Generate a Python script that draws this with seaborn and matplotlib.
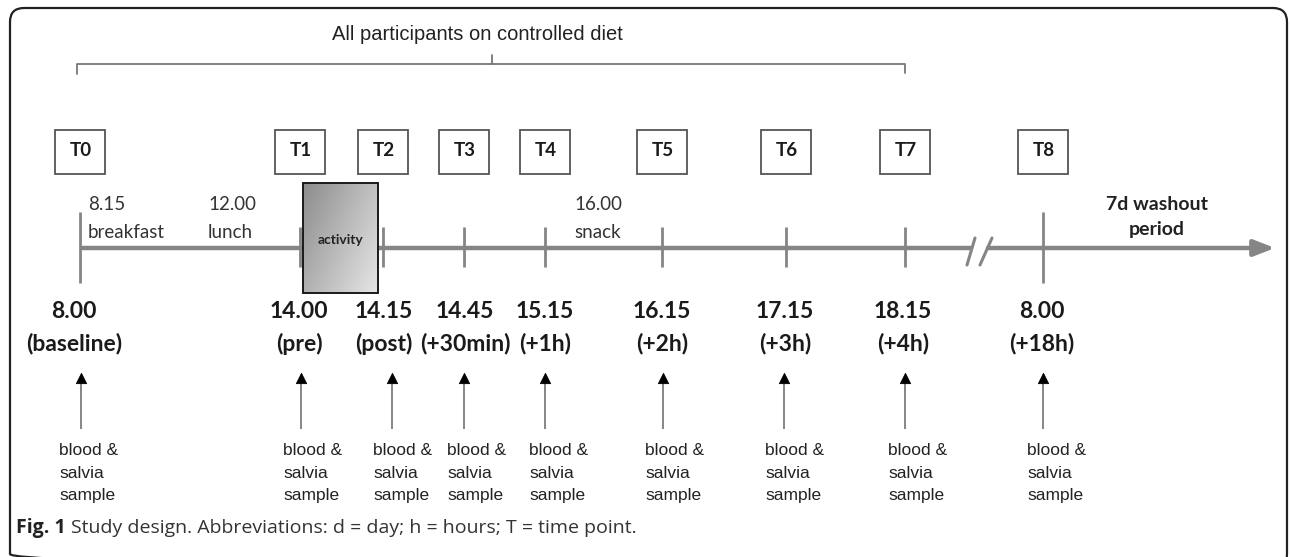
import matplotlib
matplotlib.use('Agg')
import matplotlib.pyplot as plt
import numpy as np
import seaborn as sns
from matplotlib.patches import Rectangle, FancyBboxPatch

# Timeline data (positions along the drawn time axis, in pixel units)
tp_labels = ['T0', 'T1', 'T2', 'T3', 'T4', 'T5', 'T6', 'T7', 'T8']
tp_x = [80, 300, 383, 464, 545, 662, 786, 905, 1043]
clock_times = ['8.00', '14.00', '14.15', '14.45', '15.15', '16.15', '17.15', '18.15', '8.00']
rel_times = ['(baseline)', '(pre)', '(post)', '(+30min)', '(+1h)', '(+2h)', '(+3h)', '(+4h)', '(+18h)']
label_x = [74, 299, 384, 465, 545, 662, 785, 903, 1042]
arrow_x = [81, 301, 392, 464, 545, 663, 784, 905, 1043]
sample_x = [59, 283, 373, 447, 529, 645, 765, 888, 1027]
sample_text = 'blood &\nsalvia\nsample'

meal_times = ['8.15', '12.00', '16.00']
meal_names = ['breakfast', 'lunch', 'snack']
meal_x = [88, 208, 574]

sns.set_theme(style='white')
plt.rcParams['font.family'] = ['Lato', 'DejaVu Sans']

fig = plt.figure(figsize=(12.9, 5.57), dpi=100)
ax = fig.add_axes([0, 0, 1, 1])

narrow = ['Liberation Sans', 'DejaVu Sans']

# outer frame
frame = FancyBboxPatch((10, 8), 1277, 560, boxstyle='round,pad=0,rounding_size=14',
                       fill=False, ec='#222222', lw=1.6, zorder=1)
ax.add_patch(frame)

# header bracket
ax.text(477, 34, 'All participants on controlled diet', family=narrow, fontsize=14.5,
        ha='center', va='center', color='#222222')
ax.plot([77, 77, 905, 905], [74, 64, 64, 73], color='#777777', lw=1.3)
ax.plot([492, 492], [64, 55], color='#777777', lw=1.3)

# time point boxes
for lab, x in zip(tp_labels, tp_x):
    ax.add_patch(Rectangle((x - 25, 130), 50, 44, fill=False, ec='#555555', lw=1.3, zorder=3))
    ax.text(x + 1, 151, lab, fontsize=13.5, fontweight='bold', ha='center', va='center',
            color='#1a1a1a')

# main timeline with break
tl_color = '#858585'
ax.plot([80, 972], [248, 248], color=tl_color, lw=3.2, solid_capstyle='butt', zorder=2)
ax.annotate('', xy=(1275, 248), xytext=(988, 248),
            arrowprops=dict(arrowstyle='-|>,head_length=0.9,head_width=0.35', color=tl_color,
                            lw=3.2, shrinkA=0, shrinkB=0, mutation_scale=14), zorder=2)
ax.plot([967, 975], [265, 238], color=tl_color, lw=2.2)
ax.plot([980, 992], [265, 238], color=tl_color, lw=2.2)

for i, x in enumerate(tp_x):
    if i in (0, len(tp_x) - 1):
        ax.vlines(x, 212, 283, color=tl_color, lw=2, zorder=2)
    else:
        ax.vlines(x, 227, 267, color=tl_color, lw=2, zorder=2)

# meals
for t, n, x in zip(meal_times, meal_names, meal_x):
    ax.text(x, 205, t, fontsize=13.5, ha='left', va='center', color='#333333')
    ax.text(x, 232, n, fontsize=13.5, ha='left', va='center', color='#333333')

# activity block with gradient
act = Rectangle((303, 183), 75, 110, fill=False, ec='#1a1a1a', lw=1.4, zorder=6)
yy, xx = np.mgrid[0:1:100j, 0:1:100j]
grad = 0.55 + 0.35 * (xx * 0.6 + yy * 0.4)
im = ax.imshow(grad, extent=(303, 378, 293, 183), cmap='gray', vmin=0, vmax=1,
               aspect='auto', zorder=5)
im.set_clip_path(Rectangle((303, 183), 75, 110, transform=ax.transData))
ax.add_patch(act)
ax.text(340, 240, 'activity', fontsize=10, fontweight='bold', ha='center', va='center',
        color='#222222', zorder=7)

ax.text(1157, 205, '7d washout', fontsize=14, fontweight='bold', ha='center', va='center',
        color='#222222')
ax.text(1157, 229, 'period', fontsize=14, fontweight='bold', ha='center', va='center',
        color='#222222')

# time labels, arrows and sample notes
for c, r, x in zip(clock_times, rel_times, label_x):
    ax.text(x, 311, c, fontsize=16.5, fontweight='bold', ha='center', va='center', color='#1a1a1a')
    ax.text(x, 344, r, fontsize=16.5, fontweight='bold', ha='center', va='center', color='#1a1a1a')

ax.vlines(arrow_x, 382, 429, color='#666666', lw=1.1)
sns.scatterplot(x=arrow_x, y=[378] * len(arrow_x), marker='^', color='black', s=55,
                edgecolor='black', ax=ax, zorder=4)

for x in sample_x:
    ax.text(x, 473, sample_text, family=narrow, fontsize=12.5, ha='left', va='center',
            linespacing=1.6, color='#222222')

ax.set_xlim(0, 1290)
ax.set_ylim(557, 0)
ax.axis('off')

# caption
cap_font = ['Open Sans', 'DejaVu Sans']
cap1 = ax.text(16, 528, 'Fig. 1', family=cap_font, fontsize=14,
               fontweight='bold', ha='left', va='center', color='#222222')
fig.canvas.draw()
bb = cap1.get_window_extent(renderer=fig.canvas.get_renderer())
x_end = ax.transData.inverted().transform((bb.x1, bb.y0))[0]
ax.text(x_end + 5, 528, 'Study design. Abbreviations: d = day; h = hours; T = time point.',
        family=cap_font, fontsize=14, ha='left', va='center', color='#333333')

fig.savefig('out.png', dpi=100)
